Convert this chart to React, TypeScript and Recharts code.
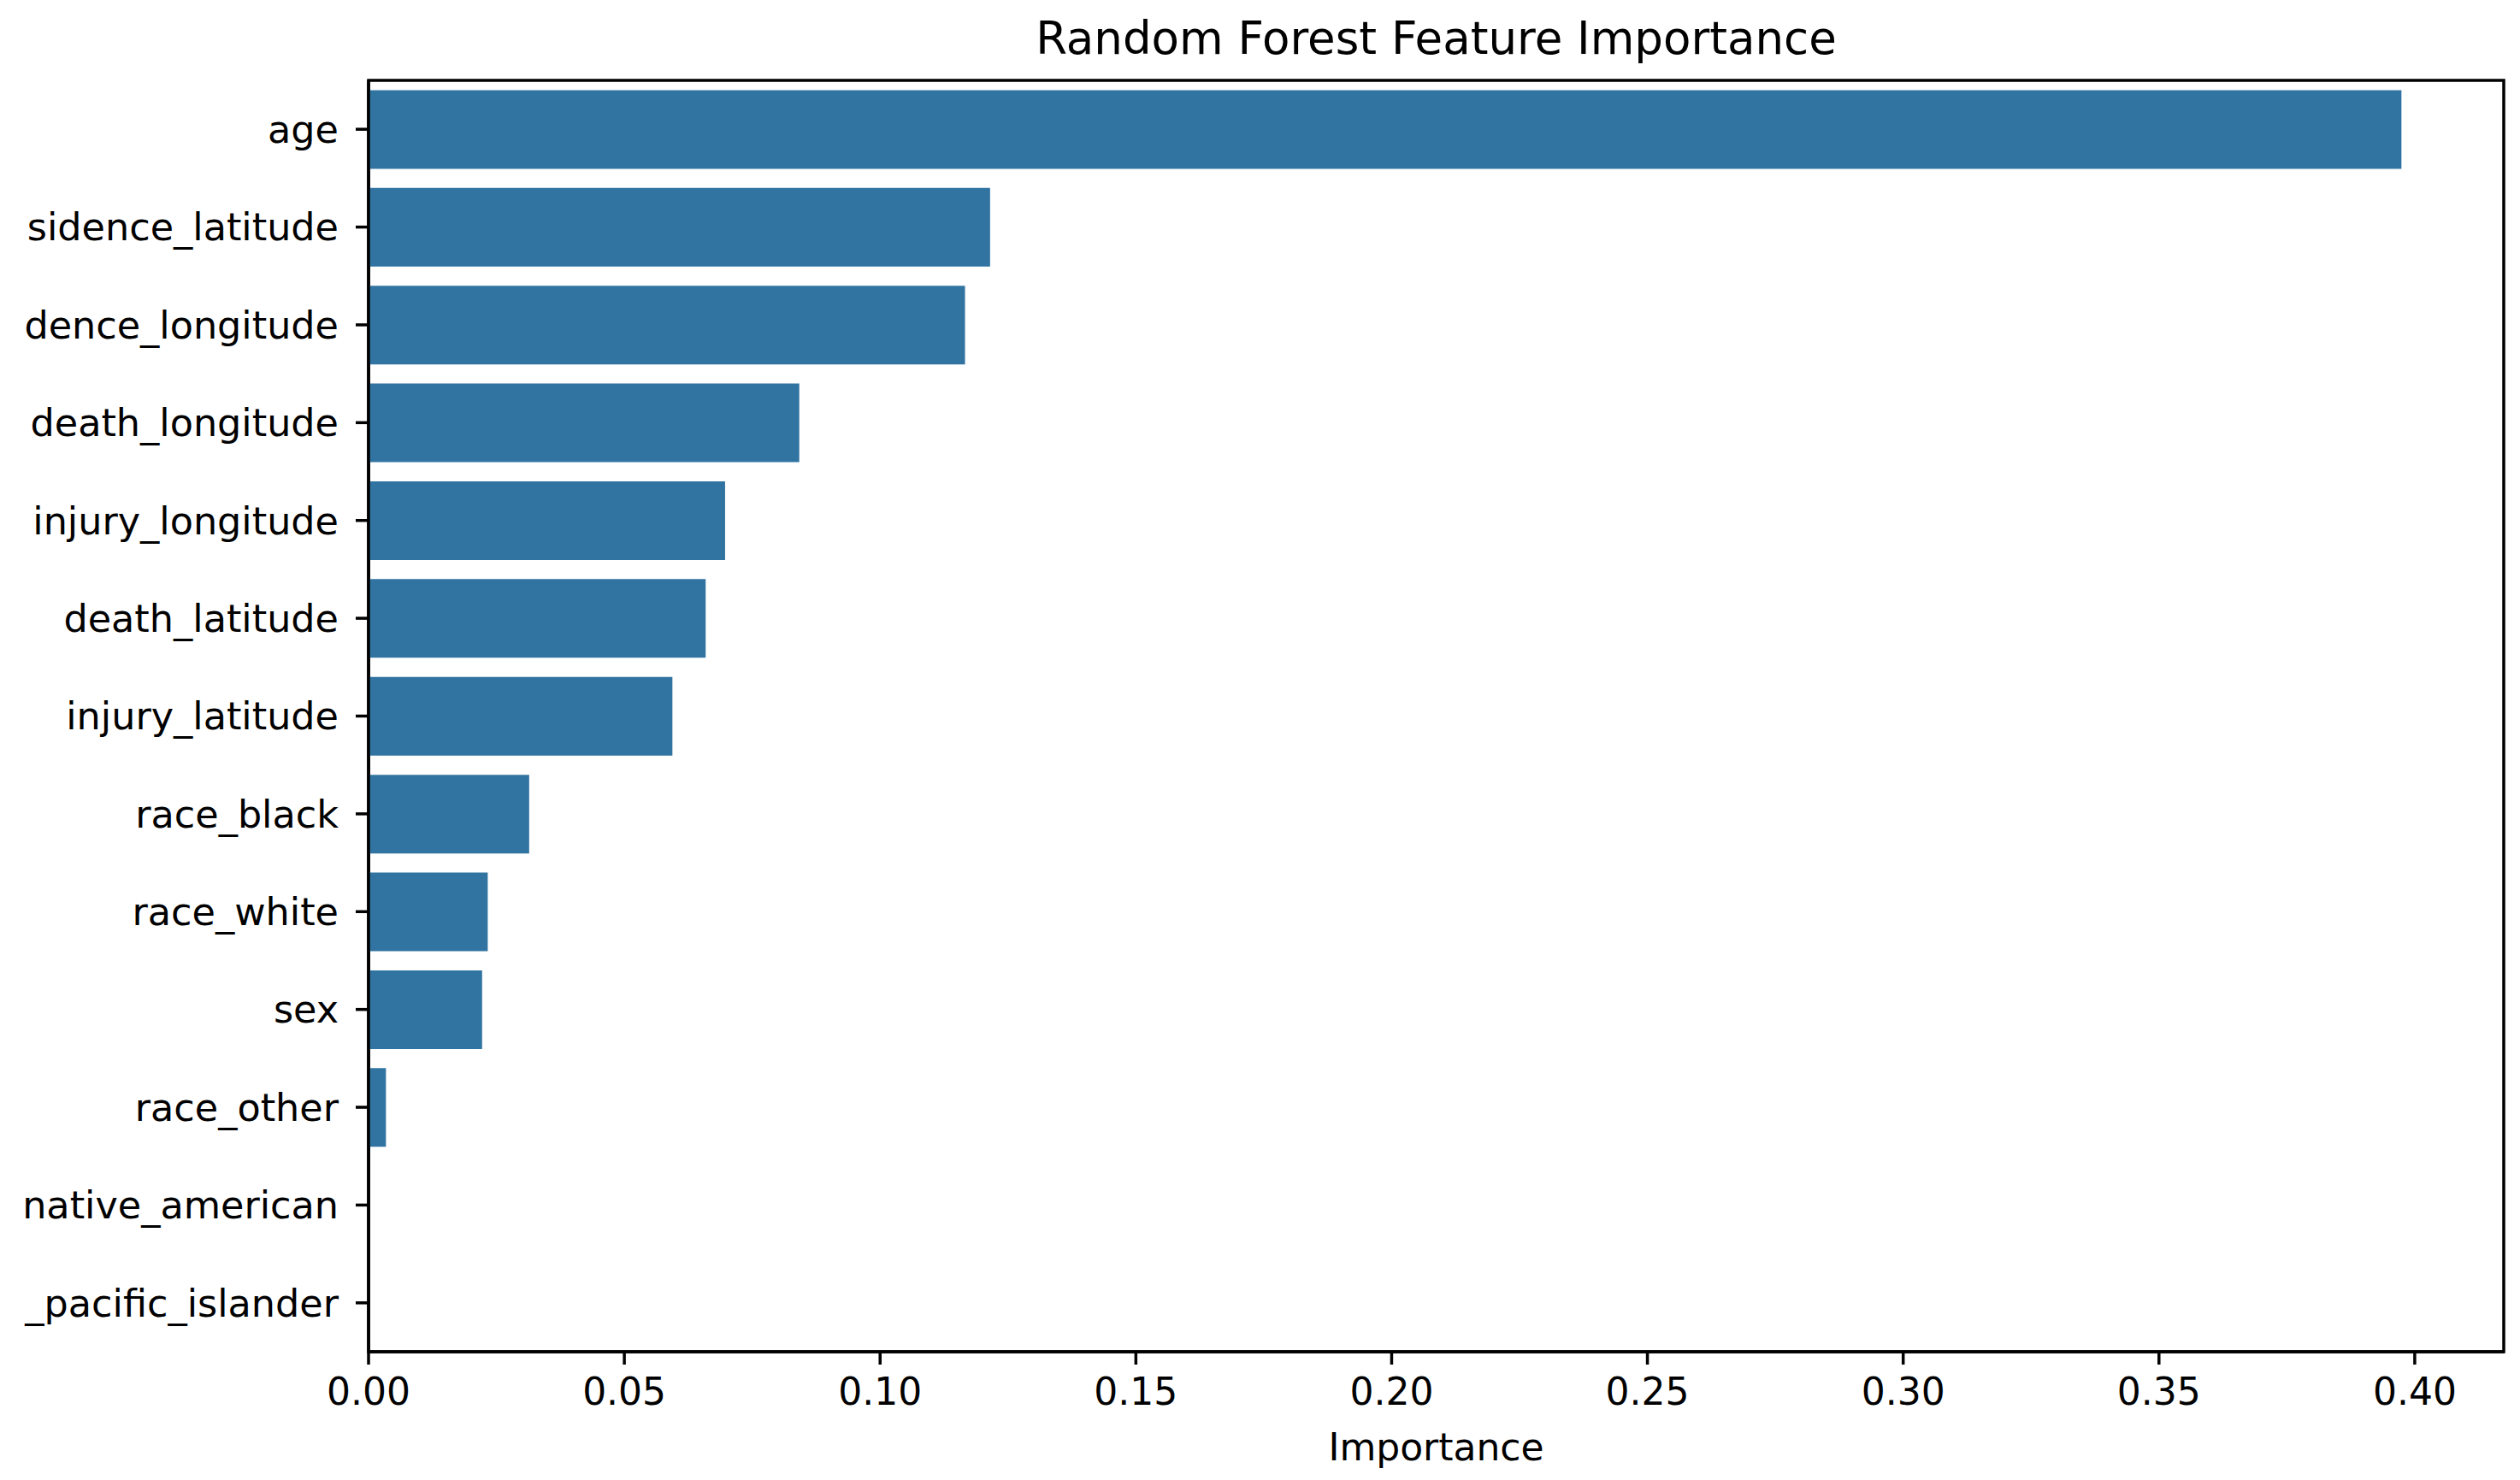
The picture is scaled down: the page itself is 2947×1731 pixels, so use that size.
import { BarChart, Bar, XAxis, YAxis, ReferenceArea } from 'recharts';

// feature names as they show in the figure (left side is clipped in the original)
const features = [
  'age',
  'sidence_latitude',
  'dence_longitude',
  'death_longitude',
  'injury_longitude',
  'death_latitude',
  'injury_latitude',
  'race_black',
  'race_white',
  'sex',
  'race_other',
  'native_american',
  '_pacific_islander',
];

const importances = [
  0.3974, 0.1215, 0.1166, 0.0842, 0.0697, 0.0659, 0.0594, 0.0314, 0.0233, 0.0222,
  0.0034, 0, 0,
];

const xTicks = [0, 0.05, 0.1, 0.15, 0.2, 0.25, 0.3, 0.35, 0.4];
const xMax = 0.4174;

const W = 2947;
const H = 1731;
const FONT = '"DejaVu Sans", sans-serif';
const BAR_COLOR = '#3274a1';
const SPINE = 3.5;

export default function App() {
  const data = features.map((name, i) => ({ name, value: importances[i] }));

  return (
    <div style={{ position: 'relative', width: W, height: H, background: '#fff' }}>
      <style>{'body{margin:0}'}</style>

      {/* Title */}
      <div
        style={{
          position: 'absolute',
          left: 431,
          width: 2497,
          top: 14,
          textAlign: 'center',
          fontFamily: FONT,
          fontSize: 53,
          lineHeight: '62px',
          color: '#000',
        }}
      >
        Random Forest Feature Importance
      </div>

      <BarChart
        width={W}
        height={H}
        data={data}
        layout="vertical"
        barCategoryGap="10%"
        margin={{ top: 94, right: 19, bottom: 0, left: 0 }}
      >
        <XAxis
          type="number"
          domain={[0, xMax]}
          ticks={xTicks}
          allowDataOverflow
          tickFormatter={(v: number) => v.toFixed(2)}
          height={150}
          tickSize={15}
          tickMargin={16}
          stroke="#000"
          axisLine={{ stroke: '#000', strokeWidth: SPINE }}
          tickLine={{ stroke: '#000', strokeWidth: SPINE }}
          tick={{ fontSize: 44, fill: '#000', fontFamily: FONT }}
          label={{
            value: 'Importance',
            position: 'insideBottom',
            offset: 23,
            fontSize: 44,
            fill: '#000',
            fontFamily: FONT,
          }}
        />
        <YAxis
          type="category"
          dataKey="name"
          width={431}
          interval={0}
          tickSize={15}
          tickMargin={20}
          axisLine={{ stroke: '#000', strokeWidth: SPINE }}
          tickLine={{ stroke: '#000', strokeWidth: SPINE }}
          tick={{ fontSize: 44.5, fill: '#000', fontFamily: FONT }}
        />
        <Bar dataKey="value" fill={BAR_COLOR} isAnimationActive={false} />
        {/* frame (all four spines) */}
        <ReferenceArea
          x1={0}
          x2={xMax}
          y1={features[0]}
          y2={features[features.length - 1]}
          fill="none"
          fillOpacity={0}
          stroke="#000"
          strokeWidth={SPINE}
          ifOverflow="visible"
        />
      </BarChart>
    </div>
  );
}
